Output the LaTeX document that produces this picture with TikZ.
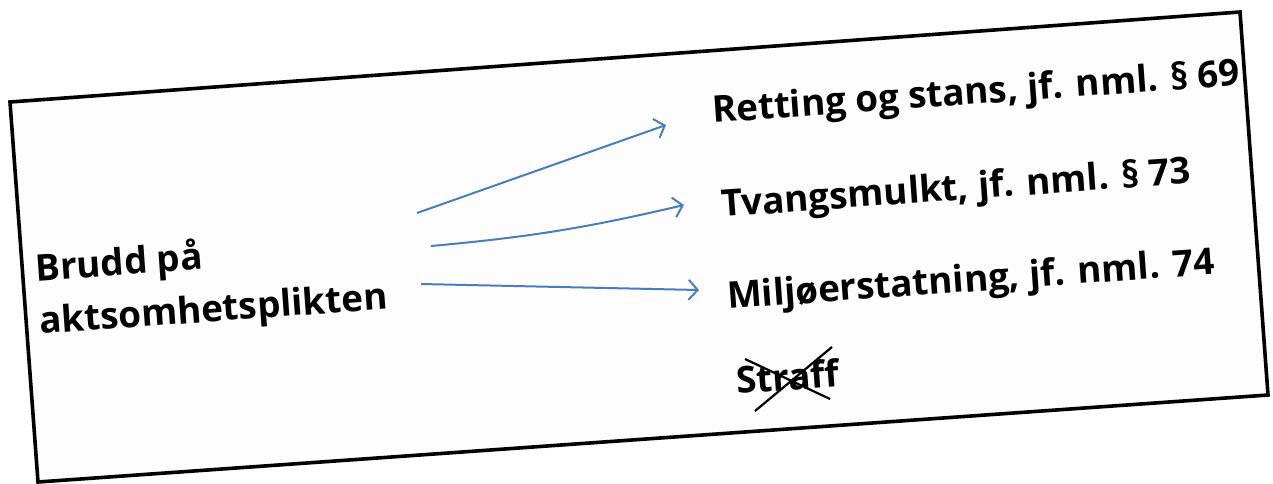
\documentclass[tikz,border=0pt]{standalone}
\usepackage{fontspec}
\setmainfont{Open Sans}
\usepackage{tikz}
\usetikzlibrary{arrows.meta,calc,positioning}
\definecolor{arrowblue}{RGB}{74,126,187}
\tikzset{
  txt/.style={anchor=base west, rotate=4.1, inner sep=0pt, font=\fontsize{36.8}{45}\selectfont\bfseries},
  link/.style={arrowblue, line width=2pt, -{Straight Barb[length=9pt,width=20pt,line width=2pt]}}
}

\begin{document}
\begin{tikzpicture}[x=1pt,y=-1pt]
    \useasboundingbox (0,0) rectangle (1273,483);
    \draw[line width=3.6pt, line join=miter, fill={rgb,255:red,253;green,253;blue,253}] (10,102) -- (1240,12) -- (1268,395) -- (38,482) -- cycle;
    \node[txt, align=left] (brudd) at (40,334) {Brudd på\\[8pt]aktsomhetsplikten};
    \node[txt] (retting) at (713,123) {Retting og stans, jf. nml. § 69};
    \node[txt] (tvang) at (722,217) {Tvangsmulkt, jf. nml. § 73};
    \node[txt] (miljo) at (728,309) {Miljøerstatning, jf. nml. 74};
    \node[txt] (straff) at (737,394) {Straff};
    \coordinate (s1) at (417,213);
    \coordinate (s2) at (431,246);
    \coordinate (s3) at (421,284);
    \coordinate (e1) at (666,125);
    \coordinate (e2) at (684,205);
    \coordinate (e3) at (699,290);
    \draw[link] (s1) -- (e1);
    \draw[link] (s2) to[bend right=4] (e2);
    \draw[link] (s3) -- (e3);
    \draw[line width=2.2pt] (745,359) -- (830,399);
    \draw[line width=2.2pt] (755,411) -- (832,347);
\end{tikzpicture}
\end{document}
